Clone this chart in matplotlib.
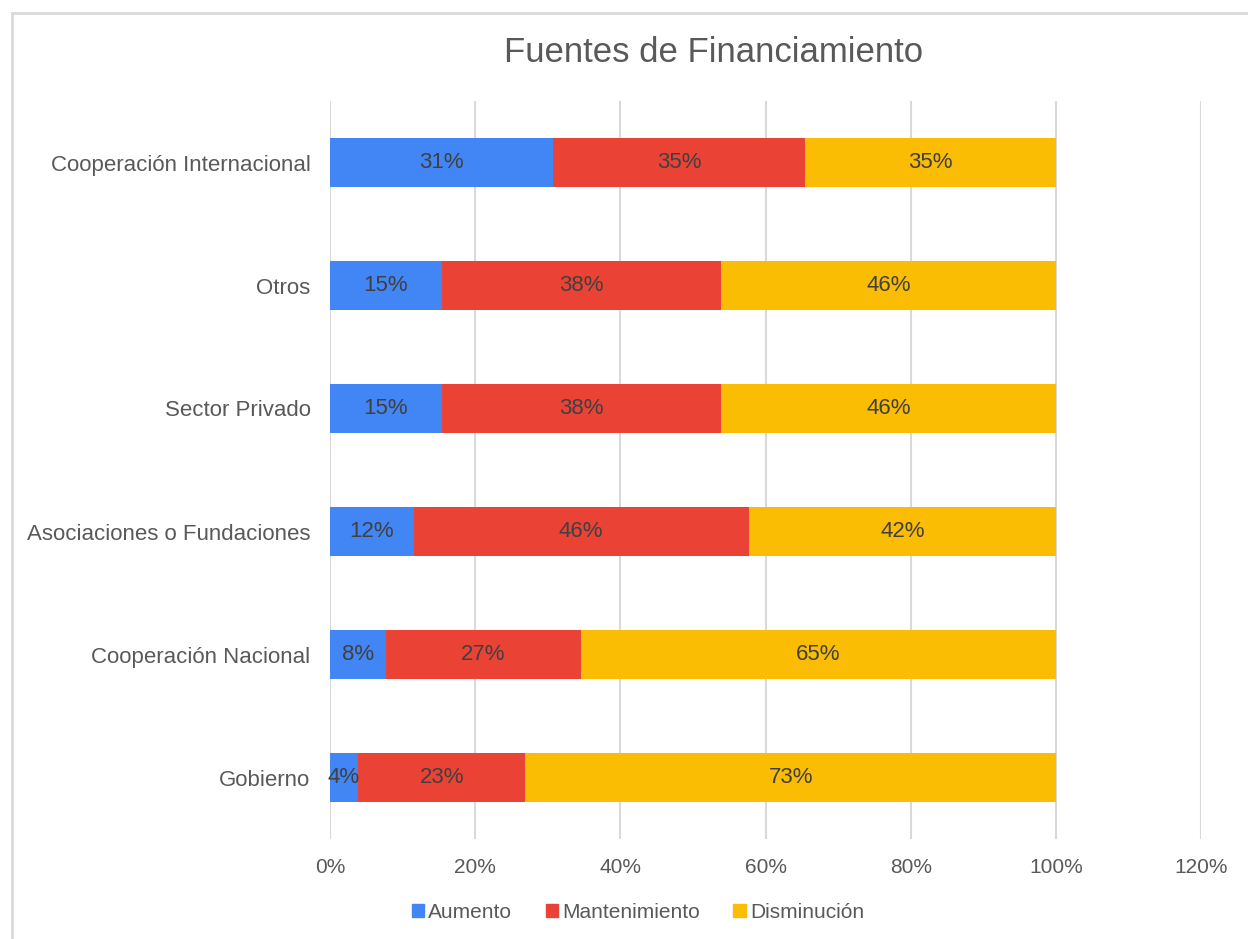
import matplotlib.pyplot as plt
import matplotlib.patches as mpatches
from matplotlib.ticker import FuncFormatter

categorias = ["Cooperación Internacional", "Otros", "Sector Privado",
              "Asociaciones o Fundaciones", "Cooperación Nacional", "Gobierno"]
aumento = [30.77, 15.38, 15.38, 11.54, 7.69, 3.85]
mantenimiento = [34.62, 38.46, 38.46, 46.15, 26.92, 23.08]
disminucion = [34.62, 46.15, 46.15, 42.31, 65.38, 73.08]
series = ["Aumento", "Mantenimiento", "Disminución"]
colores = ["#4285F4", "#EA4335", "#FBBC04"]

plt.rcParams['font.family'] = ['Liberation Sans', 'DejaVu Sans']
gris = "#595959"

W, H = 1248, 939
fig = plt.figure(figsize=(W / 100, H / 100), dpi=100)

# marco gris (solo se ven los bordes superior e izquierdo)
fig.patches.append(mpatches.Rectangle((12 / W, -0.2), 1.2, 1.2 - 13 / H, transform=fig.transFigure,
                                      fill=False, edgecolor="#d9d9d9", linewidth=2))

ax = fig.add_axes([330 / W, (H - 839) / H, (1201 - 330) / W, (839 - 101) / H])

y = list(range(len(categorias)))[::-1]
izq = [0] * len(categorias)
for nombre, vals, col in zip(series, [aumento, mantenimiento, disminucion], colores):
    ax.barh(y, vals, left=izq, height=0.4, color=col, label=nombre, zorder=3)
    for yi, l, v in zip(y, izq, vals):
        ax.text(l + v / 2, yi, "%d%%" % round(v), ha='center', va='center',
                fontsize=16, color="#404040", zorder=4)
    izq = [a + b for a, b in zip(izq, vals)]

ax.set_xlim(0, 120)
ax.set_ylim(-0.5, len(categorias) - 0.5)
ax.set_xticks(range(0, 121, 20))
ax.xaxis.set_major_formatter(FuncFormatter(lambda v, p: "%d%%" % v))
ax.set_yticks(y)
ax.set_yticklabels(categorias)
ax.tick_params(axis='both', length=0, labelcolor=gris)
ax.tick_params(axis='x', pad=14, labelsize=15)
ax.tick_params(axis='y', pad=14, labelsize=16)
ax.grid(axis='x', color="#d9d9d9", linewidth=1.5, zorder=0)
for s in ax.spines.values():
    s.set_visible(False)

fig.text(714 / W, 1 - 52 / H, "Fuentes de Financiamiento", ha='center', va='center',
         fontsize=25, color=gris)

handles = [mpatches.Patch(color=c, label=s) for s, c in zip(series, colores)]
fig.legend(handles=handles, loc='center', bbox_to_anchor=(638 / W, 1 - 912 / H), ncol=3,
           frameon=False, fontsize=15, labelcolor=gris, handlelength=0.6, handleheight=0.6,
           handletextpad=0.2, columnspacing=1.6)

fig.savefig("out.png", dpi=100)
